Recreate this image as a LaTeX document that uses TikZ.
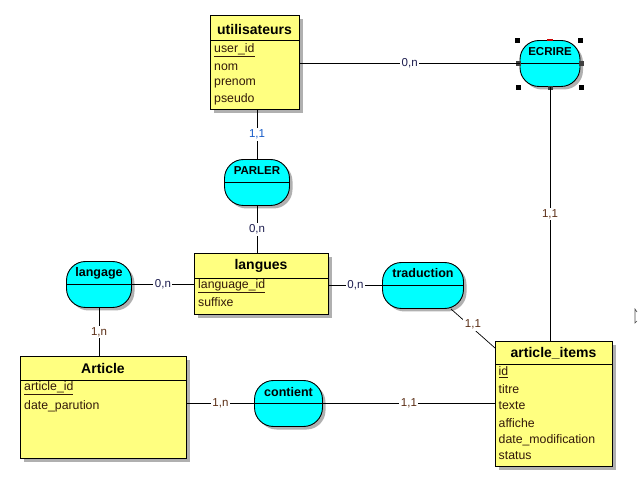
\documentclass[tikz,border=0pt]{standalone}
\usepackage{fontspec}
\setmainfont{Liberation Sans}
\usetikzlibrary{shadows}
\definecolor{entyellow}{RGB}{255,255,128}
\definecolor{assoccyan}{RGB}{0,255,255}
\definecolor{shadegray}{RGB}{176,176,176}
\definecolor{cardbrown}{RGB}{90,45,20}
\definecolor{cardnavy}{RGB}{30,30,80}
\definecolor{cardblue}{RGB}{20,90,200}
\definecolor{fieldtxt}{RGB}{50,25,10}
\begin{document}
\begin{tikzpicture}[x=1pt,y=-1pt,
  entity/.style={draw=black, line width=0.9pt, fill=entyellow, anchor=north west, inner sep=0pt,
    drop shadow={shadow xshift=4pt,shadow yshift=-4pt,fill=shadegray,opacity=1}},
  assoc/.style={draw=black, line width=0.9pt, fill=assoccyan, rounded corners=19pt, inner sep=0pt,
    drop shadow={shadow xshift=3pt,shadow yshift=-3pt,fill=shadegray,opacity=1}},
  etitle/.style={font=\fontsize{14}{16}\selectfont\bfseries, inner sep=0pt},
  atitle/.style={font=\fontsize{12.5}{14}\selectfont\bfseries, inner sep=0pt},
  acaps/.style={font=\fontsize{11.5}{13}\selectfont\bfseries, inner sep=0pt},
  field/.style={font=\fontsize{12.3}{14}\selectfont, anchor=west, inner sep=0pt, text=fieldtxt},
  sep/.style={line width=0.9pt},
  conn/.style={line width=0.9pt, black},
  card/.style={font=\fontsize{11.5}{13}\selectfont, fill=white, inner sep=1.5pt, text=cardbrown},
  handle/.style={fill=black}
]
\useasboundingbox (0,0) rectangle (638,497);

% ---------- entities ----------
\node[entity, minimum width=89pt, minimum height=94pt] (utilisateurs) at (210,15) {};
\draw[sep] (210,40) -- (299,40);
\node[etitle] (utilisateurs-t) at (254.5,29) {utilisateurs};
\node[field] (u1) at (214,50) {\underline{user\_id}};
\node[field] (u2) at (214,67) {nom};
\node[field] (u3) at (214,83) {prenom};
\node[field] (u4) at (214,99.5) {pseudo};

\node[entity, minimum width=134pt, minimum height=61pt] (langues) at (194,253) {};
\draw[sep] (194,278) -- (328,278);
\node[etitle] (langues-t) at (261,266) {langues};
\node[field] (l1) at (198,286) {\underline{language\_id}};
\node[field] (l2) at (198,302.5) {suffixe};

\node[entity, minimum width=166pt, minimum height=102pt] (Article) at (20,356) {};
\draw[sep] (20,380) -- (186,380);
\node[etitle] (Article-t) at (103,368.5) {Article};
\node[field] (a1) at (24,388.5) {\underline{article\_id}};
\node[field] (a2) at (24,406.5) {date\_parution};

\node[entity, minimum width=117pt, minimum height=125pt] (article_items) at (495,341) {};
\draw[sep] (495,364.5) -- (612,364.5);
\node[etitle] (article_items-t) at (553.5,353.5) {article\_items};
\node[field] (i1) at (498.5,372.5) {\underline{id}};
\node[field] (i2) at (498.5,389.5) {titre};
\node[field] (i3) at (498.5,406) {texte};
\node[field] (i4) at (498.5,423) {affiche};
\node[field] (i5) at (498.5,440) {date\_modification};
\node[field] (i6) at (498.5,456) {status};

% ---------- associations ----------
\node[assoc, minimum width=60pt, minimum height=46pt] (ECRIRE) at (550,63.5) {};
\draw[sep] (ECRIRE.west) -- (ECRIRE.east);
\node[acaps] (ECRIRE-t) at (550,51.5) {ECRIRE};

\node[assoc, minimum width=65pt, minimum height=46pt] (PARLER) at (257,182.5) {};
\draw[sep] (PARLER.west) -- (PARLER.east);
\node[acaps] (PARLER-t) at (257,171) {PARLER};

\node[assoc, minimum width=65pt, minimum height=46pt] (langage) at (99,284.5) {};
\draw[sep] (langage.west) -- (langage.east);
\node[atitle] (langage-t) at (99,273) {langage};

\node[assoc, minimum width=81pt, minimum height=46pt] (traduction) at (423,285.5) {};
\draw[sep] (traduction.west) -- (traduction.east);
\node[atitle] (traduction-t) at (423,273.5) {traduction};

\node[assoc, minimum width=68pt, minimum height=46pt] (contient) at (288.5,403.5) {};
\draw[sep] (contient.west) -- (contient.east);
\node[atitle] (contient-t) at (288.5,392.5) {contient};

% ---------- selection handles on ECRIRE ----------
\fill[handle] (515,38) rectangle (520,43);
\fill[handle] (578,38) rectangle (583,43);
\fill[handle] (516,85) rectangle (521,90);
\fill[handle] (579,85) rectangle (584,90);
\fill[black!75] (547.5,86) rectangle (552.5,90);
\fill[black!75] (516,61) rectangle (521,66);
\fill[black!75] (579,61) rectangle (584,66);
\fill[red!80!black] (547,39.5) rectangle (553,41);

% ---------- connectors ----------
\draw[conn] (utilisateurs.east |- ECRIRE.west) -- (ECRIRE.west)
  node[card, midway, text=cardnavy] {0,n};
\draw[conn] (PARLER.north |- utilisateurs.south) -- (PARLER.north)
  node[card, midway, text=cardblue] {1,1};
\draw[conn] (PARLER.south) -- (PARLER.south |- langues.north)
  node[card, midway, text=cardnavy] {0,n};
\draw[conn] (langage.east) -- (langage.east -| langues.west)
  node[card, midway, text=cardnavy] {0,n};
\draw[conn] (langage.south) -- (langage.south |- Article.north)
  node[card, midway] {1,n};
\draw[conn] (langues.east |- traduction.west) -- (traduction.west)
  node[card, midway, text=cardnavy] {0,n};
\coordinate (ai-in) at (495,348);
\draw[conn, line width=0.7pt] (traduction.-40) -- (ai-in)
  node[card, pos=0.5, yshift=4pt] {1,1};
\draw[conn] (ECRIRE.south) -- (ECRIRE.south |- article_items.north)
  node[card, midway] {1,1};
\draw[conn] (Article.east |- contient.west) -- (contient.west)
  node[card, midway] {1,n};
\draw[conn] (contient.east) -- (contient.east -| article_items.west)
  node[card, midway] {1,1};

% ---------- cursor fragment at right edge ----------
\draw[black!70, line width=0.6pt] (637,312) -- (635,309) -- (635,323) -- (637,321);
\end{tikzpicture}
\end{document}
